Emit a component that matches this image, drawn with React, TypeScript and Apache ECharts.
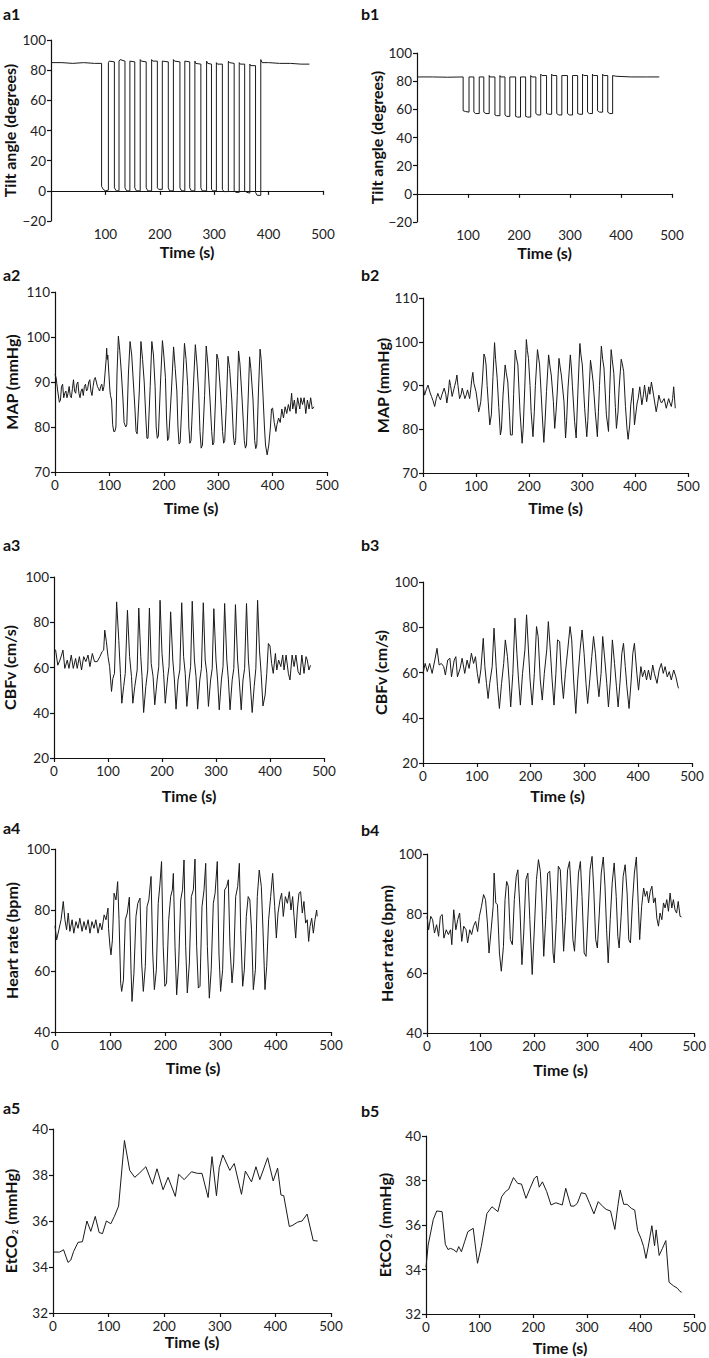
import React, { useEffect, useRef } from "react";
import * as echarts from "echarts";

// ---------- DATA (time in s, value) ----------
const tiltA: [number, number][] = [
  [0, 85], [20, 85], [40, 84.5], [60, 85], [80, 84.5], [93, 84.5],
  [93, 3], [96, 1], [100, 0], [105.5, 0.5],
  [105.5, 85], [107, 86], [116.5, 85.5],
  [116.5, 2], [120, 0], [125, 0],
  [125, 86], [127, 87], [136, 86],
  [136, 2], [139, 0], [145, 0],
  [145, 86], [154, 85.5],
  [154, 2], [157, 0], [164, 0],
  [164, 87], [166, 86], [175, 85.5],
  [175, 2], [178, 0], [185, 0],
  [185, 87], [187, 86], [195.5, 86],
  [195.5, 2], [198, 1], [204.6, 1],
  [204.6, 86], [215.6, 85.5],
  [215.6, 2], [218, 0], [225, 0],
  [225, 87], [227, 86], [237, 85.5],
  [237, 2], [240, 0], [246, 0],
  [246, 86], [255, 85.5],
  [255, 2], [258, 0], [264.5, 0],
  [264.5, 86], [266, 84.5], [275.5, 84],
  [275.5, 2], [278, 0], [286, 0],
  [286, 86], [288, 84.5], [295, 84],
  [295, 1], [298, 0], [304, 0],
  [304, 85], [306, 84], [315, 84],
  [315, 1], [318, -0.5], [326, -0.5],
  [326, 86], [328, 85], [336.7, 84.5],
  [336.7, 0], [340, -1], [346, -1],
  [346, 85], [348, 84], [356, 84],
  [356, 0], [360, -1], [365.5, -1.5],
  [365.5, 84], [367, 83], [376, 83],
  [376, -1], [379, -3], [385.6, -3],
  [385.6, 87], [388, 85], [400, 85], [420, 84.5], [440, 84.5], [460, 84], [475, 84],
];

const tiltB: [number, number][] = [
  [0, 83], [30, 83], [60, 82.8], [90.5, 83],
  [90.5, 59], [95, 58.5], [102, 58],
  [102, 83], [111.5, 83],
  [111.5, 58], [115, 57], [122, 57],
  [122, 83], [131, 83],
  [131, 58], [135, 57], [141.6, 57],
  [141.6, 84], [143, 83], [152.8, 83],
  [152.8, 56], [156, 55.5], [162.6, 55.5],
  [162.6, 84], [164, 83], [172.5, 83],
  [172.5, 56], [176, 55], [182, 55],
  [182, 83], [193.4, 83],
  [193.4, 55], [197, 54.5], [203, 54.5],
  [203, 83], [213, 83],
  [213, 55], [217, 54.5], [223, 54.5],
  [223, 84], [225, 83], [233, 83],
  [233, 57], [237, 56], [242.6, 56],
  [242.6, 85], [245, 84], [254, 84],
  [254, 57], [258, 56.5], [264, 56.5],
  [264, 85], [266, 84], [274, 84],
  [274, 57], [278, 56], [284, 56],
  [284, 84], [295, 84],
  [295, 57], [299, 56], [305, 56],
  [305, 84], [315, 84],
  [315, 57], [319, 56.5], [324.6, 56.5],
  [324.6, 85], [327, 84], [334.4, 84],
  [334.4, 58], [338, 57], [344, 57],
  [344, 85], [346, 84], [354, 84],
  [354, 59], [358, 58], [364, 58],
  [364, 85], [366, 84], [374, 84],
  [374, 58], [378, 57], [383.6, 57],
  [383.6, 84], [390, 83.5], [420, 83], [450, 83], [475, 83],
];

const mapA: [number, number][] = [
  [0, 91.7], [2, 91], [5, 88], [8, 85.5], [10, 86], [12, 89], [14, 89.5], [16, 86.5], [18, 87.5], [20, 88],
  [22, 86.5], [24, 87.5], [26, 89], [28, 87], [30, 86.5], [32, 88.5], [34, 90.5], [36, 88], [38, 87.5], [40, 89.5],
  [42, 90], [44, 87.5], [46, 86.5], [48, 88], [50, 88.5], [52, 87], [54, 89], [56, 89.5], [58, 88], [60, 88.5],
  [62, 90], [64, 90.5], [66, 88], [68, 87], [70, 89], [72, 90.5], [74, 91], [76, 90], [78, 89], [80, 88.5],
  [82, 88], [84, 89], [86, 89.5], [88, 88], [90, 89], [92, 92], [94, 95], [95, 97.5], [96, 95], [97, 96],
  [99, 92], [101, 88], [102, 87], [104, 86], [106, 80.5], [108, 79], [110, 79], [112, 80], [114, 92], [116.5, 100.2],
  [119, 97], [122, 92], [125, 86], [127, 81], [130, 80], [132, 80.5], [135, 92], [138, 99], [141, 96], [144, 90],
  [147, 84], [149, 79], [151, 78.5], [155, 88], [158, 99], [161, 95], [164, 90], [167, 82], [169, 77.5], [171, 77.5],
  [175, 89], [178, 99], [181, 96], [184, 89], [186, 80], [188, 77.5], [190, 78], [194, 90], [197.5, 99.2], [200, 96],
  [203, 91], [205, 82], [207, 77], [209, 77.5], [214, 88], [218, 97.8], [221, 93], [224, 88], [226, 80], [228, 76.2],
  [230, 76.5], [234, 87], [238, 98.6], [241, 95], [244, 89], [246, 80], [248, 76.4], [250, 77], [254, 88], [258, 98.3],
  [261, 94], [264, 88], [266.5, 79], [268.7, 75.3], [271, 76], [275, 87], [278, 98], [281, 94], [285, 86], [288, 79],
  [290, 76], [292, 76.5], [295, 86], [297.5, 96.2], [300, 95], [304, 88], [308, 79], [310, 76.4], [312, 77], [315, 85],
  [318, 95.7], [321, 93], [325, 86], [328, 78], [330, 76], [332, 77], [335, 87], [337.4, 96.9], [340, 94], [344, 86],
  [348, 77], [350, 75.3], [352, 76], [355, 86], [357.7, 95.6], [360, 93], [364, 86], [367, 77], [369, 75.2], [371, 76],
  [374, 88], [377, 97.3], [379, 95], [382, 88], [385, 80], [387, 76], [390, 73.8], [393, 76], [396, 80], [398, 84],
  [400, 84.2], [403, 81], [406, 79], [408, 80.5], [411, 82], [414, 81], [417, 84], [420, 82], [423, 84.5], [426, 83],
  [429, 85], [432, 83.5], [435, 87.5], [437, 84], [440, 86], [443, 83], [446, 86.5], [450, 84], [452, 86.5], [455, 85],
  [458, 86.5], [461, 83], [464, 86], [467, 84], [470, 86.5], [473, 84], [476, 84.5],
];

const mapB: [number, number][] = [
  [0, 90.1], [3, 87.8], [6, 89], [9.4, 90.1], [13, 88.5], [16, 87.5], [19, 86.5], [22, 85.2], [25, 87], [28, 88.2],
  [30, 87.5], [33, 86.7], [36, 88], [40, 89.4], [43, 88], [45, 86], [48, 88.5], [50, 91.3], [52, 90], [55, 87.5],
  [58, 89], [60, 90], [62, 91], [64, 92.4], [66, 90], [69, 87], [72, 88], [74, 89.4], [77, 88], [79, 87],
  [82, 88], [84, 89], [86, 88], [88, 87], [90, 89], [92, 91.3], [94, 93], [96, 90.5], [100, 88.6], [103, 86],
  [105, 84], [107, 85], [109, 86.3], [112, 91], [115, 97.2], [117, 96.5], [119, 94.7], [121, 90], [123, 86.3], [126, 81],
  [129, 83.3], [132, 92], [135, 99.8], [137, 96], [140, 91.6], [143, 85], [146, 78.7], [148, 80], [151, 87.8], [155, 94.7],
  [157, 93], [160, 90.8], [163, 84], [165, 78.7], [168.5, 78.7], [171, 88], [174, 98.1], [176, 96.5], [179, 94.7], [183, 84],
  [187, 76.8], [189, 80], [192, 89.4], [195, 100.5], [197, 98], [199, 96.2], [202, 90], [204, 84], [207.5, 78.3], [210, 84],
  [212, 90], [216, 98.2], [218, 96.5], [220, 94.7], [223, 88], [225, 83.3], [228, 77], [230, 81], [233, 88.6], [237, 97],
  [240, 94], [242, 92.4], [246, 86.3], [248.5, 80.2], [251, 84], [253, 87.8], [256.6, 96.2], [259, 94], [261, 92.4], [266, 86.3],
  [269, 78], [271, 82], [273.6, 89.4], [278, 97], [280, 94], [282, 89.7], [286, 81.8], [289, 78], [292.5, 89.4], [296, 99.6],
  [298, 97], [300.6, 94.7], [305, 84.8], [309, 78.3], [311, 82], [313, 87.8], [316, 95.8], [318, 94], [321, 90.8], [325, 84],
  [329, 78.3], [331, 84], [333, 90], [336.5, 99], [339, 96], [341.5, 94], [346, 83.3], [350, 79.5], [352, 88], [355, 98.2],
  [357, 96], [360, 92.8], [363, 85], [365, 80.2], [368, 84], [370, 89.4], [374, 96], [376, 95], [378.6, 93.2], [382, 85.2],
  [385, 80], [387, 77.7], [390, 81], [392, 85.6], [396, 89.4], [399, 81], [401, 83], [404, 86], [406, 87], [409, 89.7],
  [413, 85.6], [416, 88], [418, 90.1], [422, 86.3], [426, 89.7], [428, 88], [431, 90.8], [435, 87.8], [440, 84], [443, 86],
  [445, 87.8], [448, 86.5], [450, 86], [455, 87], [459, 84.8], [463.5, 87], [466, 86], [468.5, 85.2], [471, 87], [473, 89.7],
  [476, 84.8],
];

const cbfvA: [number, number][] = [
  [0, 68.4], [3, 67.7], [7, 61], [11, 63.3], [14, 65.5], [16.6, 67.7], [20, 59.6], [24.6, 63.3], [27.7, 59.6], [32, 65.5],
  [35.7, 59.6], [40, 64], [43, 59.6], [47, 64.8], [51, 58.9], [55, 64.8], [59, 62.6], [63, 65.5], [66.5, 60.4], [71, 66.2],
  [75, 62.6], [80, 62.6], [85, 64.8], [89, 67], [92, 67.7], [94, 76.5], [97, 71.4], [100, 64.8], [103, 60.4], [106.5, 49.4],
  [109, 55.2], [112, 57.4], [116, 89], [120, 72], [123, 57.4], [125.6, 44.2], [129, 51.6], [132, 57.4], [136, 85.3], [140, 64.8],
  [143.5, 56], [146, 44.2], [149.6, 51.6], [154, 58.9], [157, 86.3], [160.7, 64.8], [163, 56], [166, 40.1], [170, 51.6], [173.6, 58.9],
  [176.7, 86.3], [180, 61.8], [183.5, 56], [186.6, 43.5], [191, 54.5], [194, 60.4], [196.4, 89.7], [200, 66.2], [203, 57.4], [206, 44.2],
  [210.6, 56], [213, 60.4], [216, 84.6], [220, 63.3], [223, 54.5], [226, 41.6], [229.7, 54.5], [233, 58.9], [236.5, 88.6], [240, 64.8],
  [243, 57.4], [246, 42.8], [250, 54.5], [253, 60.4], [256, 89.3], [260, 63.3], [263, 56], [266, 41.6], [270, 54.5], [273, 59.6],
  [276.5, 88.6], [280, 63.3], [283, 57.4], [286, 42.8], [290, 54.5], [293, 59.6], [296, 86], [300, 63.3], [303, 54.5], [306, 41.3],
  [310, 54.5], [313, 60.4], [316, 88.3], [320, 63.3], [323, 54.5], [326, 41.3], [330, 54.5], [333, 59.6], [336, 87.8], [340, 63.3],
  [343, 54.5], [346.7, 41.3], [350, 54.5], [353, 59.6], [356.5, 88.3], [360, 63.3], [363, 54.5], [367, 40.1], [370.7, 51.6], [373.8, 59.6],
  [377, 89.7], [380.5, 67.7], [383.6, 57.4], [387, 43], [391, 47.9], [394, 57.4], [397, 70.6], [400, 69.5], [403, 61.8], [406, 57.4],
  [410, 66.2], [412.6, 58.9], [416, 63.3], [420, 60.4], [423.6, 65.5], [426, 58.9], [429.8, 65.5], [434, 57.4], [437, 54.5], [441, 65.5],
  [444.6, 60.4], [448, 65.5], [452, 58.2], [455.7, 56.7], [459, 65.5], [463, 57.4], [466.7, 64.8], [469, 63.3], [472, 58.9], [475, 61],
];

const cbfvB: [number, number][] = [
  [0, 59.6], [4, 64], [8, 60.4], [12.4, 64], [17, 59.6], [22, 65.5], [26, 70.7], [30, 63.3], [34, 64], [38.5, 62.6],
  [41.6, 58.9], [46, 65.5], [50, 66.3], [53, 58.1], [58, 65.5], [61, 67], [64, 58.1], [69, 61.8], [72.7, 66.3], [77.6, 59.6],
  [82, 65.5], [85.7, 61.8], [90, 68.5], [94, 64], [97.5, 67], [101, 59.6], [104, 55.2], [107.5, 61.1], [112, 75.1], [115, 62.6],
  [118, 55.2], [121, 48.5], [124, 55.2], [128.6, 62.6], [132, 79.6], [136, 62.6], [138.5, 53.7], [142, 44.1], [146, 55.2], [150, 64],
  [153, 74.4], [157, 67], [160, 56.7], [163, 44.8], [167, 59.6], [171, 84], [174.5, 68.5], [177.6, 56.7], [181, 45.6], [185, 59.6],
  [189.4, 70], [192.5, 85.5], [196, 70], [199, 56.7], [203, 45.6], [207, 59.6], [211, 80.3], [214, 75.9], [218, 56.7], [221.7, 47.8],
  [225.5, 59.6], [230, 70], [233, 82.5], [236.6, 70], [240, 56.7], [243.5, 45.6], [247, 59.6], [250, 74.4], [254, 73.7], [257.8, 56.7],
  [261, 48.5], [264.6, 59.6], [269, 70], [273.3, 80.3], [276.4, 74.4], [280, 56.7], [284, 41.9], [287.6, 56.7], [292, 70], [295.7, 78.8],
  [299.4, 68.5], [303, 55.2], [306, 46.3], [310, 56.7], [313.7, 67], [317, 75.9], [320.5, 68.5], [324, 56.7], [327, 49.3], [331, 59.6],
  [334, 75.9], [338, 65.5], [341.6, 55.2], [344.7, 44.8], [348.4, 56.7], [352, 74.4], [356, 64], [359.6, 53.7], [362.7, 44.8], [366.5, 56.7],
  [369.6, 68.5], [372.7, 72.9], [376, 62.6], [379, 53.7], [383, 44.1], [387, 56.7], [390, 68.5], [393, 72.9], [397.5, 59.6], [400.6, 52.2],
  [405, 62.6], [408, 58.1], [412, 61.1], [415.5, 56.7], [419, 61.1], [423, 56.7], [427, 63.3], [430, 59.6], [435, 55.2], [439, 61.1],
  [443, 64], [446.6, 59.6], [450, 62.6], [454, 58.1], [457.8, 60.4], [461.5, 56.7], [466, 61.1], [470, 58.1], [474, 53.7], [475, 53],
];

const hrA: [number, number][] = [
  [0, 74.8], [3, 70.2], [7, 73.5], [11, 76.8], [15, 82.8], [18, 76.8], [21, 73.5], [24, 79], [27, 73], [31, 76.8],
  [34, 72.4], [38, 76.2], [41.7, 74], [45, 77.3], [49, 73], [52.5, 76.2], [56, 73.5], [60, 76.8], [63.4, 72.4], [67, 76.2],
  [70.7, 74], [74, 76.8], [78, 72.4], [81.5, 75.7], [85, 73.5], [89, 78.4], [92.4, 76.8], [96, 80.6], [97, 74], [99.6, 68],
  [101.4, 65.3], [104, 70.2], [107, 85.5], [110.5, 83.3], [113.5, 89.3], [116, 76.8], [119, 56], [120.8, 53.3], [124, 57.1], [127.4, 76.8],
  [131, 79], [134.7, 84.2], [137.7, 60.4], [139.5, 50], [143, 59.3], [146.7, 77.9], [150, 82.2], [154, 83.9], [157, 62.6], [160, 53.3],
  [163.6, 61.5], [166.7, 81.1], [170, 83.3], [174, 91], [177, 65.9], [180, 53.9], [183.6, 60.4], [187, 82.2], [190, 88.2], [193, 95.9],
  [196, 68.1], [199, 55], [202, 56], [206, 76.8], [209.5, 84.4], [212.6, 86.6], [214.4, 92], [217.4, 68.1], [220.4, 52.2], [224, 62.6],
  [227.7, 83.3], [231, 86.6], [233.7, 96.4], [236.7, 68.1], [239.7, 52.8], [243.4, 62.6], [247, 84.4], [250.6, 86.6], [253.6, 96.7], [256.6, 68.1],
  [259.7, 54.4], [262.7, 55], [266.3, 81.1], [270, 86.6], [273, 95.3], [276, 68.1], [279.6, 51.1], [283, 60.4], [286.8, 82.2], [290, 85.5],
  [294, 95.9], [297, 65.9], [300, 53.3], [303.7, 60.4], [307.4, 86.6], [311, 87.7], [314, 89.9], [317, 68.1], [320.7, 56.1], [323.7, 62.6],
  [327.3, 84.4], [331, 87.7], [334, 95.3], [336.4, 73.5], [340, 55], [343, 60.4], [346.6, 77.9], [350, 84.4], [353, 83.3], [356, 73.5],
  [359.3, 53.9], [363, 60.4], [366.5, 84.4], [370, 93.1], [373.8, 87.7], [376.8, 73.5], [380.4, 53.9], [383.5, 61.5], [387, 76.8], [390.7, 84.4],
  [394.3, 92], [398, 81.1], [401, 70.8], [404, 79], [407.6, 83.3], [410.6, 85.5], [413.6, 77.9], [417.3, 84.4], [421, 82.2], [424.5, 86],
  [427.5, 80], [430.5, 84.4], [433, 77.9], [436, 70.8], [439, 80], [442, 85.5], [445, 86], [448, 79], [451, 82.8], [454, 75.7],
  [457, 76.8], [459.5, 69.7], [462, 74.6], [465, 77.3], [468, 72.4], [471, 76.8], [474, 80], [475, 77.9],
];

const hrB: [number, number][] = [
  [0, 79.1], [3, 74.6], [7, 79.1], [10.5, 78], [14, 73.5], [18, 76.3], [21.7, 72.4], [25, 79.1], [28.5, 79.7], [31.6, 71.8],
  [36, 74.6], [40, 73], [44, 74.6], [46.4, 69.6], [50, 81.3], [54, 74.6], [57.5, 78], [61, 80.2], [65, 70.7], [68.7, 75.8],
  [73, 74.6], [76, 70.2], [80, 74.6], [83.5, 73], [87, 75.8], [91, 77.4], [94.7, 74], [98, 79.1], [102, 82.5], [105.8, 86.4],
  [109.5, 84.7], [113, 76.9], [116, 66.8], [120, 74.6], [123.8, 82.5], [125.6, 93.6], [128.7, 83.6], [131.8, 83], [135.5, 66.8], [139, 60.7],
  [143, 69], [146, 84.7], [149, 90.8], [152, 89.2], [156, 71.3], [159.7, 69.6], [163.4, 84.7], [167, 92.5], [170, 94.7], [174, 81.3],
  [177.6, 62.9], [181, 73.5], [185, 91.4], [188.7, 93.6], [192.4, 78], [196.8, 59.6], [200.5, 73.5], [204.8, 91.4], [208.5, 98.1], [212, 94.2],
  [215, 83.6], [218.4, 65.7], [222, 78], [225.8, 93.6], [229.6, 94.2], [232.7, 83.6], [235.8, 66.8], [238, 63.5], [242, 78], [245.7, 95.9],
  [249.4, 94.7], [252.5, 82.5], [255.6, 67.4], [259.3, 79.1], [263, 94.7], [266.7, 97.5], [269.8, 86.9], [273, 71.3], [276, 67.4], [279.7, 80.2],
  [283.4, 93.6], [287, 97.5], [290, 85.8], [294, 66.8], [297.6, 65.7], [301.4, 80.2], [305, 94.7], [308.8, 99.2], [312, 88], [315.6, 71.3],
  [318.7, 68.5], [322.4, 80.2], [326, 93.6], [329.8, 99], [333, 89.2], [336, 74.6], [339, 63.5], [342.8, 78], [346.5, 90.3], [350.2, 97],
  [354, 85.8], [357, 72.4], [359.5, 68.5], [363.2, 79.1], [367, 92.5], [370.7, 96.4], [374.4, 86.9], [377.5, 71.3], [380.6, 70.2], [384.3, 83.6],
  [388, 93.6], [391.7, 99], [395.4, 82.5], [397.9, 71.3], [401.6, 82.5], [405.3, 88.6], [408.4, 85.8], [411.5, 87.5], [414.6, 83.6], [417.7, 87.5],
  [420.8, 89.2], [423.9, 83.6], [427, 85.3], [430, 78.5], [433, 75.8], [436, 80.2], [439.4, 78], [442.5, 83.6], [445.5, 81.9], [448.6, 84.7],
  [451.7, 80.8], [454.8, 86.9], [458, 81.9], [461, 84.7], [464, 81.3], [467, 80.2], [470, 84.1], [473.4, 79.1], [476, 78.9],
];

const etco2A: [number, number][] = [
  [0, 34.65], [12, 34.65], [19, 34.75], [27, 34.2], [32, 34.3], [37, 34.67], [45, 35.07], [53, 35.1], [61, 36], [68, 35.55],
  [76, 36.2], [83, 35.5], [89, 35.45], [96, 36], [104, 35.88], [110.4, 36.2], [118, 36.65], [128.5, 39.5], [138, 38.2], [147, 37.9],
  [155, 38.07], [167, 38.36], [179, 37.6], [187, 38.27], [198, 37.36], [207, 37.9], [220, 37.07], [226, 38.03], [236, 37.8], [249, 38.14],
  [260, 38.07], [268, 38.07], [279, 37.02], [286, 38.8], [294, 37.1], [299, 38.32], [305.5, 38.87], [318, 38.2], [326, 38.5], [339, 37.16],
  [346, 38.17], [357, 37.7], [365, 38.36], [372, 37.8], [386, 38.75], [396, 37.74], [404, 38.3], [410, 37.13], [415, 37.1], [425, 35.76],
  [430, 35.8], [440, 35.95], [448, 36], [457, 36.3], [468, 35.15], [476, 35.13],
];

const etco2B: [number, number][] = [
  [0, 34.1], [4, 35.1], [13.6, 36.25], [20, 36.63], [30, 36.6], [36, 35.13], [41, 34.9], [46, 34.95], [52, 34.88], [57, 34.78],
  [61, 35.03], [66, 34.8], [72, 35.25], [78, 35.7], [88, 35.85], [96, 34.28], [103, 35.03], [113.6, 36.52], [123, 36.82], [134, 36.6],
  [141, 37.27], [148, 37.5], [154, 37.6], [163, 38.13], [171, 37.87], [178, 37.84], [186.4, 37.2], [194, 37.65], [202, 38.1], [207, 38.2],
  [211, 37.7], [217, 37.94], [225, 37.5], [233, 36.9], [242, 37], [249, 36.94], [254, 36.9], [260.5, 37.65], [270, 36.85], [276, 36.85],
  [282, 36.97], [289.5, 37.45], [297.5, 37.4], [305, 36.97], [313, 36.5], [321, 37.05], [330, 36.82], [336, 36.7], [344, 36.63], [352, 35.8],
  [357.4, 36.82], [362, 37.57], [368.5, 36.93], [374.7, 36.93], [382.7, 36.75], [389, 36.67], [394.4, 35.75], [400.6, 35.4], [405.6, 35.03], [410, 34.5],
  [414.8, 35.1], [421, 35.97], [426, 35.07], [429, 35.78], [434.6, 34.63], [440.7, 34.95], [447, 35.3], [453, 33.43], [461, 33.27], [468.5, 33.16],
  [473.5, 33.01], [476.5, 32.98],
];

const xTicks = { min: 0, max: 500, interval: 100 };
const xTitle = "Time (s)";

// ---------- LAYOUT ----------
type Panel = {
  label: string; data: [number, number][]; yName: string;
  yMin: number; yMax: number; yInt: number;
  left: number; top: number; width: number; height: number;
  yGap: number; xGap: number; lx: number; ly: number; zero?: boolean;
};

const panels: Panel[] = [
  { label: "a1", data: tiltA, yName: "{b|Tilt angle (degrees)}", yMin: -20, yMax: 100, yInt: 20, left: 51, top: 40, width: 272, height: 181, yGap: 34, xGap: 22, lx: 3, ly: 13, zero: true },
  { label: "b1", data: tiltB, yName: "{b|Tilt angle (degrees)}", yMin: -20, yMax: 100, yInt: 20, left: 417, top: 53, width: 255, height: 169, yGap: 32, xGap: 22, lx: 361, ly: 13, zero: true },
  { label: "a2", data: mapA, yName: "{b|MAP (mmHg)}", yMin: 70, yMax: 110, yInt: 10, left: 55, top: 292, width: 272, height: 180, yGap: 36, xGap: 27, lx: 3, ly: 274 },
  { label: "b2", data: mapB, yName: "{b|MAP (mmHg)}", yMin: 70, yMax: 110, yInt: 10, left: 423, top: 298, width: 265, height: 175, yGap: 32, xGap: 26, lx: 361, ly: 274 },
  { label: "a3", data: cbfvA, yName: "{b|CBFv (cm/s)}", yMin: 20, yMax: 100, yInt: 20, left: 53, top: 577, width: 271, height: 181, yGap: 37, xGap: 29, lx: 3, ly: 544 },
  { label: "b3", data: cbfvB, yName: "{b|CBFv (cm/s)}", yMin: 20, yMax: 100, yInt: 20, left: 423, top: 582, width: 269, height: 181, yGap: 35, xGap: 24, lx: 361, ly: 544 },
  { label: "a4", data: hrA, yName: "{b|Heart rate (bpm)}", yMin: 40, yMax: 100, yInt: 20, left: 55, top: 849, width: 276, height: 183, yGap: 36, xGap: 27, lx: 3, ly: 827 },
  { label: "b4", data: hrB, yName: "{b|Heart rate (bpm)}", yMin: 40, yMax: 100, yInt: 20, left: 427, top: 854, width: 270, height: 179, yGap: 33, xGap: 28, lx: 361, ly: 829 },
  { label: "a5", data: etco2A, yName: "{b|EtCO}{s|2}{b| (mmHg)}", yMin: 32, yMax: 40, yInt: 2, left: 53, top: 1129, width: 278, height: 184, yGap: 34, xGap: 19, lx: 3, ly: 1107 },
  { label: "b5", data: etco2B, yName: "{b|EtCO}{s|2}{b| (mmHg)}", yMin: 32, yMax: 40, yInt: 2, left: 426, top: 1136, width: 270, height: 178, yGap: 33, xGap: 25, lx: 361, ly: 1110 },
];

const FONT = "Lato, 'Liberation Sans', Arial, sans-serif";
const INK = "#111";

export default function App() {
  const ref = useRef<HTMLDivElement>(null);
  useEffect(() => {
    if (!ref.current) return;
    const chart = echarts.init(ref.current, undefined, { renderer: "svg" });
    const axisLine = { lineStyle: { color: INK, width: 1.2 } };
    const axisTick = { show: true, length: 4, lineStyle: { color: INK, width: 1.2 } };
    const tickLabel = { color: "#222", fontSize: 13.5, fontFamily: FONT };
    const xNameStyle = { color: INK, fontSize: 16, fontWeight: "bold", fontFamily: FONT };
    const yNameStyle = {
      color: INK, fontSize: 16, fontWeight: "bold", fontFamily: FONT,
      rich: {
        b: { fontSize: 16, fontWeight: "bold", fontFamily: FONT, color: INK },
        s: { fontSize: 8, fontWeight: "bold", fontFamily: FONT, color: INK, padding: [9, 1, 0, 1] },
      },
    };
    const option: any = {
      animation: false,
      backgroundColor: "#fff",
      grid: panels.map((p) => ({ left: p.left, top: p.top, width: p.width, height: p.height, containLabel: false })),
      xAxis: panels.map((p, i) => ({
        type: "value", gridIndex: i, min: xTicks.min, max: xTicks.max, interval: xTicks.interval,
        name: xTitle, nameLocation: "middle", nameGap: p.xGap, nameTextStyle: xNameStyle,
        axisLine: { ...axisLine, onZero: !!p.zero },
        axisTick, splitLine: { show: false },
        axisLabel: { ...tickLabel, margin: 6, showMinLabel: !p.zero },
      })),
      yAxis: panels.map((p, i) => ({
        type: "value", gridIndex: i, min: p.yMin, max: p.yMax, interval: p.yInt,
        name: p.yName, nameLocation: "middle", nameGap: p.yGap, nameTextStyle: yNameStyle,
        axisLine: { ...axisLine, show: true, onZero: false },
        axisTick, splitLine: { show: false },
        axisLabel: { ...tickLabel, margin: 5, formatter: (v: number) => String(v).replace("-", "\u2212") },
      })),
      series: panels.map((p, i) => ({
        type: "line", xAxisIndex: i, yAxisIndex: i, data: p.data,
        showSymbol: false, symbol: "none", silent: true,
        lineStyle: { color: "#1a1a1a", width: 1 },
      })),
      graphic: panels.map((p) => ({
        type: "text", x: p.lx, y: p.ly,
        style: { text: p.label, fontSize: 16, fontWeight: "bold", fontFamily: FONT, fill: INK, verticalAlign: "middle" },
      })),
    };
    chart.setOption(option);
    return () => chart.dispose();
  }, []);
  return (
    <div
      ref={ref}
      style={{ position: "absolute", left: 0, top: 0, width: 709, height: 1358, background: "#fff" }}
    />
  );
}
